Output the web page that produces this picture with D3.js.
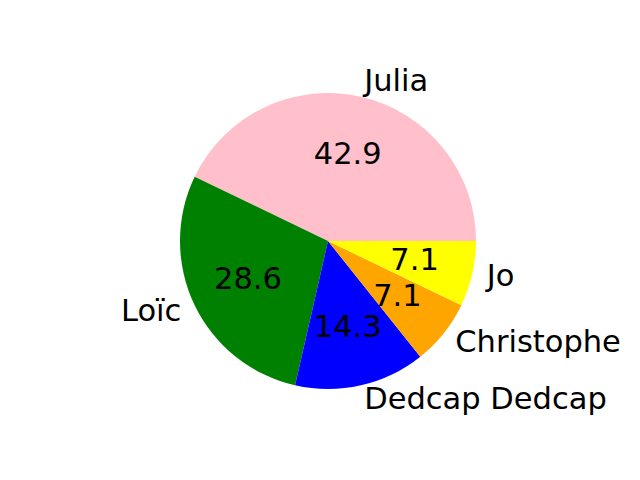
<html>
<head>
    <meta charset="utf-8">
    <script src="https://d3js.org/d3.v7.min.js"></script>
    <style>
        body { margin: 0; background: #fff; }
        text { font-family: "DejaVu Sans", sans-serif; font-size: 30.5px; fill: #000; }
    </style>
</head>
<body>
    <script>
        var names = ["Julia", "Loïc", "Dedcap Dedcap", "Christophe", "Jo"];
        var values = [6, 4, 2, 1, 1];
        var colors = ["pink", "green", "blue", "orange", "yellow"];

        var width = 640, height = 480;
        var cx = 328, cy = 241, r = 148;

        var svg = d3.select("body").append("svg")
            .attr("width", width)
            .attr("height", height);

        var data = names.map(function (n, i) { return { name: n, value: values[i], color: colors[i] }; });
        var total = d3.sum(values);

        // matplotlib style: start at 3 o'clock, go counter-clockwise
        // d3 angles: 0 at 12 o'clock, clockwise -> use start PI/2, end PI/2 - 2PI
        var pie = d3.pie()
            .value(function (d) { return d.value; })
            .sort(null)
            .startAngle(Math.PI / 2)
            .endAngle(Math.PI / 2 - 2 * Math.PI);

        var arcs = pie(data);
        var arc = d3.arc().innerRadius(0).outerRadius(r);

        var g = svg.append("g").attr("transform", "translate(" + cx + "," + cy + ")");

        g.selectAll("path")
            .data(arcs)
            .enter().append("path")
            .attr("d", arc)
            .attr("fill", function (d) { return d.data.color; });

        function pos(d, f) {
            var a = (d.startAngle + d.endAngle) / 2;
            return [Math.sin(a) * r * f, -Math.cos(a) * r * f];
        }

        g.selectAll(".label")
            .data(arcs)
            .enter().append("text")
            .attr("class", "label")
            .attr("x", function (d) { return pos(d, 1.1)[0]; })
            .attr("y", function (d) { return pos(d, 1.1)[1]; })
            .attr("dy", "0.3em")
            .attr("text-anchor", function (d) { return pos(d, 1.1)[0] > 0 ? "start" : "end"; })
            .text(function (d) { return d.data.name; });

        g.selectAll(".pct")
            .data(arcs)
            .enter().append("text")
            .attr("class", "pct")
            .attr("x", function (d) { return pos(d, 0.6)[0]; })
            .attr("y", function (d) { return pos(d, 0.6)[1]; })
            .attr("dy", "0.3em")
            .attr("text-anchor", "middle")
            .text(function (d) { return (d.data.value / total * 100).toFixed(1); });
    </script>
</body>
</html>
